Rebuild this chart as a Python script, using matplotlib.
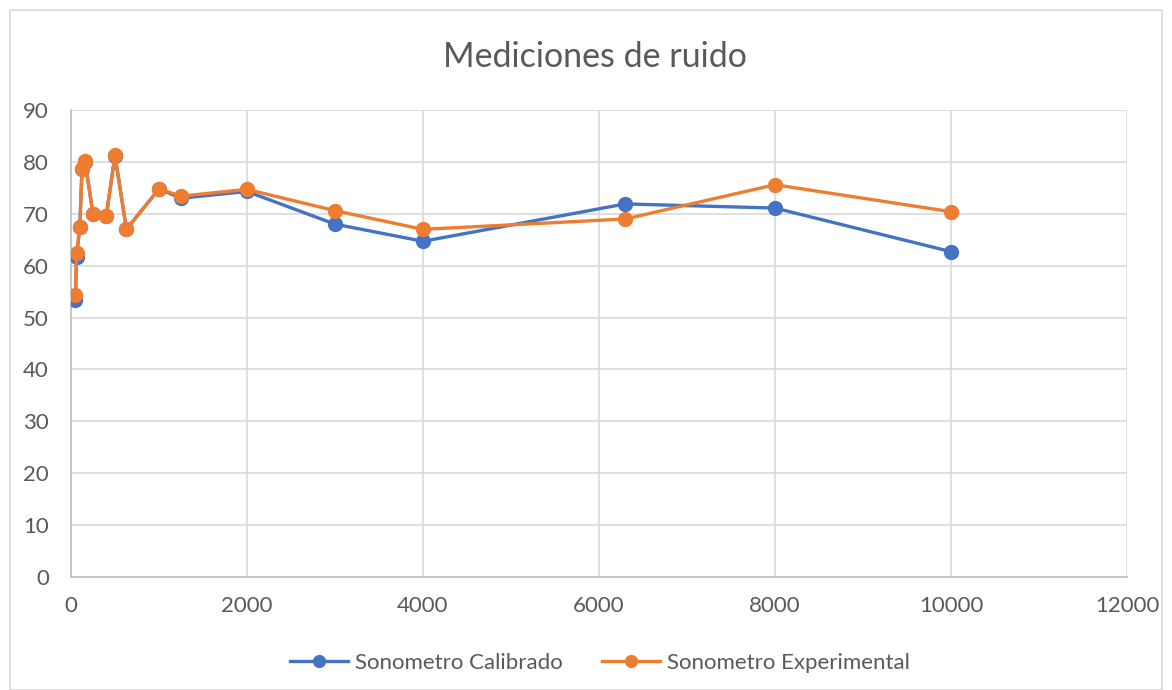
import matplotlib.pyplot as plt
from matplotlib.patches import Rectangle

plt.rcParams['font.family'] = ['Lato', 'DejaVu Sans']

# frecuencias (Hz)
frecuencia = [50, 63, 100, 125, 160, 250, 400, 500, 630, 1000, 1250, 2000,
              3000, 4000, 6300, 8000, 10000]
calibrado = [53.4, 61.7, 67.4, 78.6, 80.0, 70.0, 69.6, 81.2, 67.0, 74.8,
             73.0, 74.3, 68.0, 64.7, 71.9, 71.1, 62.7]
experimental = [54.3, 62.4, 67.4, 78.6, 80.1, 69.9, 69.5, 81.3, 67.0, 74.8,
                73.4, 74.7, 70.6, 67.0, 69.0, 75.6, 70.4]

azul = '#4472C4'
naranja = '#ED7D31'
gris = '#595959'

fig = plt.figure(figsize=(11.72, 6.9), dpi=100)
ax = fig.add_axes([71 / 1172, 1 - 577 / 690, (1127 - 71) / 1172, (577 - 110) / 690])

ax.plot(frecuencia, calibrado, color=azul, lw=2.4, marker='o', ms=10,
        label='Sonometro Calibrado', zorder=3)
ax.plot(frecuencia, experimental, color=naranja, lw=2.4, marker='o', ms=10,
        label='Sonometro Experimental', zorder=4)

ax.set_xlim(0, 12000)
ax.set_ylim(0, 90)
ax.set_xticks(range(0, 12001, 2000))
ax.set_yticks(range(0, 91, 10))
ax.grid(True, color='#D9D9D9', lw=1.2)
ax.set_axisbelow(True)
for s in ['top', 'right']:
    ax.spines[s].set_visible(False)
for s in ['left', 'bottom']:
    ax.spines[s].set_color('#BFBFBF')
    ax.spines[s].set_linewidth(1.2)
ax.tick_params(length=0, labelsize=16, colors=gris)
ax.tick_params(axis='x', pad=14)
ax.tick_params(axis='y', pad=16)

fig.text(595 / 1172, 1 - 57 / 690, 'Mediciones de ruido', ha='center', va='center',
         fontsize=24.5, color=gris)

fig.legend(loc='center', bbox_to_anchor=(600 / 1172, 1 - 663 / 690), ncol=2,
           frameon=False, fontsize=16, labelcolor=gris, handlelength=2.6,
           handletextpad=0.3, columnspacing=1.8, markerscale=0.85)

fig.patches.append(Rectangle((10 / 1172, 0), 1152 / 1172, 1 - 10 / 690,
                             transform=fig.transFigure, fill=False,
                             edgecolor='#D9D9D9', lw=1.2))

fig.savefig('out.png', dpi=100)
